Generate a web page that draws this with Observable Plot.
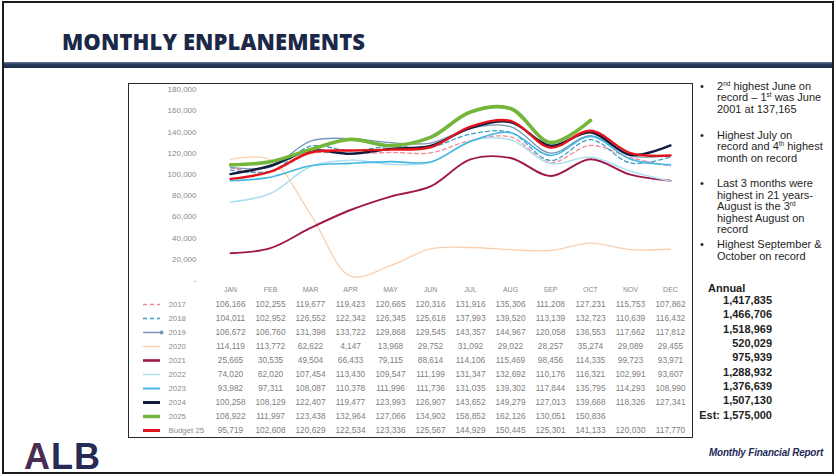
<!DOCTYPE html>
<html>
<head>
<meta charset="utf-8">
<script src="https://cdn.jsdelivr.net/npm/d3@7"></script>
<script src="https://cdn.jsdelivr.net/npm/@observablehq/plot@0.6"></script>
<style>
  body { margin: 0; background: #fff; font-family: "Liberation Sans", Arial, sans-serif; }
  #page { position: relative; width: 836px; height: 476px; overflow: hidden; background: #fff; }
  #outer { position: absolute; left: 2px; top: 1px; width: 832px; height: 473px; border: 2px solid #1c1c1c; box-sizing: border-box; }
  #title { position: absolute; left: 62px; top: 29px; font-family: "Open Sans", sans-serif; font-weight: 800; font-size: 22px; line-height: 24px; color: #1b2848; letter-spacing: 0.1px; white-space: nowrap; }
  #band { position: absolute; left: 4px; top: 62px; width: 828px; height: 6px; background: linear-gradient(#6a7f9c 0%, #2a3d5e 35%, #1e2f4d 100%); }
  #box { position: absolute; left: 128px; top: 83px; width: 565px; height: 355px; border: 1.5px solid #2a2a2a; box-sizing: border-box; }
  #chart { position: absolute; left: 128px; top: 83px; }
  #table { position: absolute; left: 128px; top: 283px; }
  #notes { position: absolute; left: 717px; top: 81px; margin: 0; padding: 0; list-style: none; font-size: 11px; line-height: 11.4px; color: #1e1e1e; white-space: nowrap; }
  #notes li { position: relative; margin-bottom: 14.5px; }
  #notes li:nth-child(3) { margin-bottom: 4px; }
  #notes li::before { content: "•"; position: absolute; left: -17px; }
  #notes sup { font-size: 6.5px; vertical-align: 4px; line-height: 0; }
  #annualHead { position: absolute; left: 708px; top: 281px; font-size: 11px; line-height: 14px; font-weight: bold; color: #1e1e1e; }
  #annual { position: absolute; left: 680px; top: 293px; width: 92px; text-align: right; font-size: 11px; line-height: 14.33px; font-weight: bold; color: #1e1e1e; }
  #logo { position: absolute; left: 24px; top: 437px; font-family: "Liberation Sans", Arial, sans-serif; font-weight: bold; font-size: 36px; line-height: 40px; color: #262a55; letter-spacing: 1px; }
  #logo .a { color: #4a2b52; }
  #footer { position: absolute; left: 709px; top: 445px; font-family: "Liberation Sans", Arial, sans-serif; font-style: italic; font-weight: bold; font-size: 11.5px; line-height: 14px; color: #1f2a58; white-space: nowrap; transform: scaleX(0.86); transform-origin: left center; letter-spacing: -0.2px; }
</style>
</head>
<body>
<div id="page">
  <div id="outer"></div>
  <div id="title">MONTHLY ENPLANEMENTS</div>
  <div id="band"></div>
  <div id="box"></div>
  <div id="chart"></div>
  <div id="table"></div>
  <ul id="notes">
    <li>2<sup>nd</sup> highest June on<br>record – 1<sup>st</sup> was June<br>2001 at 137,165</li>
    <li>Highest July on<br>record and 4<sup>th</sup> highest<br>month on record</li>
    <li>Last 3 months were<br>highest in 21 years-<br>August is the 3<sup>rd</sup><br>highest August on<br>record</li>
    <li>Highest September &amp;<br>October on record</li>
  </ul>
  <div id="annualHead">Annual</div>
  <div id="annual"></div>
  <div id="logo"><span class="a">A</span>LB</div>
  <div id="footer">Monthly Financial Report</div>
</div>
<script>
// ---- data ----
const months = ["JAN","FEB","MAR","APR","MAY","JUN","JUL","AUG","SEP","OCT","NOV","DEC"];
const seriesNames = ["2017","2018","2019","2020","2021","2022","2023","2024","2025","Budget 25"];
const v2017 = [106166,102255,119677,119423,120665,120316,131916,135306,111208,127231,115753,107862];
const v2018 = [104011,102952,126552,122342,126345,125618,137993,139520,113139,132723,110639,116432];
const v2019 = [106672,106760,131398,133722,129868,129545,143357,144967,120058,136553,117662,117812];
const v2020 = [114119,113772,62622,4147,13968,29752,31092,29022,28257,35274,29089,29455];
const v2021 = [25665,30535,49504,66433,79115,88614,114106,115469,98456,114335,99723,93971];
const v2022 = [74020,82020,107454,113430,109547,111199,131347,132692,110176,116321,102991,93607];
const v2023 = [93982,97311,108087,110378,111996,111736,131035,139302,117844,135795,114293,108990];
const v2024 = [100258,108129,122407,119477,123993,126907,143652,149279,127013,139668,118326,127341];
const v2025 = [108922,111997,123438,132964,127066,134902,158852,162126,130051,150836];
const vBudget = [95719,102608,120629,122534,123336,125567,144929,150445,125301,141133,120030,117770];
const seriesValues = [v2017,v2018,v2019,v2020,v2021,v2022,v2023,v2024,v2025,vBudget];
const annualTotals = [1417835,1466706,1518969,520029,975939,1288932,1376639,1507130];
const annualEstimate = 1575000;
const yTicks = [0,20000,40000,60000,80000,100000,120000,140000,160000,180000];

// ---- styles (kept apart from data) ----
const styles = {
  "2017": {stroke: "#f28b9a", w: 1.3, dash: "4,3", lw: 1.5},
  "2018": {stroke: "#3d9fc6", w: 1.3, dash: "4,3", lw: 1.5},
  "2019": {stroke: "#7896b8", w: 1.3, dash: null, lw: 1.5},
  "2020": {stroke: "#f9d0b0", w: 1.3, dash: null, lw: 1.5},
  "2021": {stroke: "#a0174a", w: 1.9, dash: null, lw: 2.6},
  "2022": {stroke: "#aee0f0", w: 1.5, dash: null, lw: 1.5},
  "2023": {stroke: "#44b6e3", w: 1.6, dash: null, lw: 2},
  "2024": {stroke: "#101c40", w: 2.4, dash: null, lw: 3},
  "2025": {stroke: "#74b53c", w: 3.6, dash: null, lw: 3.5},
  "Budget 25": {stroke: "#e3141b", w: 2.4, dash: null, lw: 3}
};

const rows = seriesNames.flatMap((s, i) => seriesValues[i].map((v, j) => ({series: s, month: months[j], value: v})));
const fmt = d3.format(",");
const font = "'Liberation Sans', Arial, sans-serif";

// ---- line chart ----
const chart = Plot.plot({
  width: 564, height: 200,
  marginLeft: 99, marginRight: 20, marginTop: 6, marginBottom: 3,
  x: {type: "point", domain: months, padding: 0, axis: null},
  y: {domain: [0, 180000], ticks: yTicks, tickSize: 0, tickPadding: 31, label: null,
      tickFormat: d => d === 0 ? "-" : fmt(d)},
  style: {fontFamily: font, fontSize: "8px", color: "#8a8a8a", background: "transparent", overflow: "visible"},
  marks: seriesNames.map(s => Plot.line(rows.filter(d => d.series === s), {
    x: "month", y: "value", curve: "catmull-rom",
    stroke: styles[s].stroke, strokeWidth: styles[s].w,
    strokeDasharray: styles[s].dash ?? undefined
  }))
});
document.getElementById("chart").appendChild(chart);

// ---- data table ----
const table = Plot.plot({
  width: 564, height: 154,
  marginLeft: 99, marginRight: 20, marginTop: 19, marginBottom: 6,
  x: {type: "point", domain: months, padding: 0, axis: "top", tickSize: 0, tickPadding: 11, label: null},
  y: {type: "point", domain: seriesNames, padding: 0, axis: null},
  style: {fontFamily: font, fontSize: "7px", color: "#8a8a8a", background: "transparent", overflow: "visible"},
  marks: [
    Plot.text(rows, {x: "month", y: "series", text: d => fmt(d.value), fill: "#808080", fontSize: 8.3}),
    Plot.text(seriesNames, {y: d => d, text: d => d, frameAnchor: "left", dx: -59, textAnchor: "start", fill: "#8a8a8a", fontSize: 7.8}),
    ...seriesNames.map(s => Plot.ruleY([s], {
      stroke: styles[s].stroke, strokeWidth: styles[s].lw,
      strokeDasharray: styles[s].dash ?? undefined,
      dx: -84, insetRight: 428
    })),
    Plot.dot(["2019"], {y: d => d, frameAnchor: "left", dx: -66, r: 2, fill: styles["2019"].stroke})
  ]
});
document.getElementById("table").appendChild(table);

// ---- annual column ----
document.getElementById("annual").innerHTML =
  annualTotals.map(v => fmt(v)).concat(["Est: " + fmt(annualEstimate)]).join("<br>");
</script>
</body>
</html>
